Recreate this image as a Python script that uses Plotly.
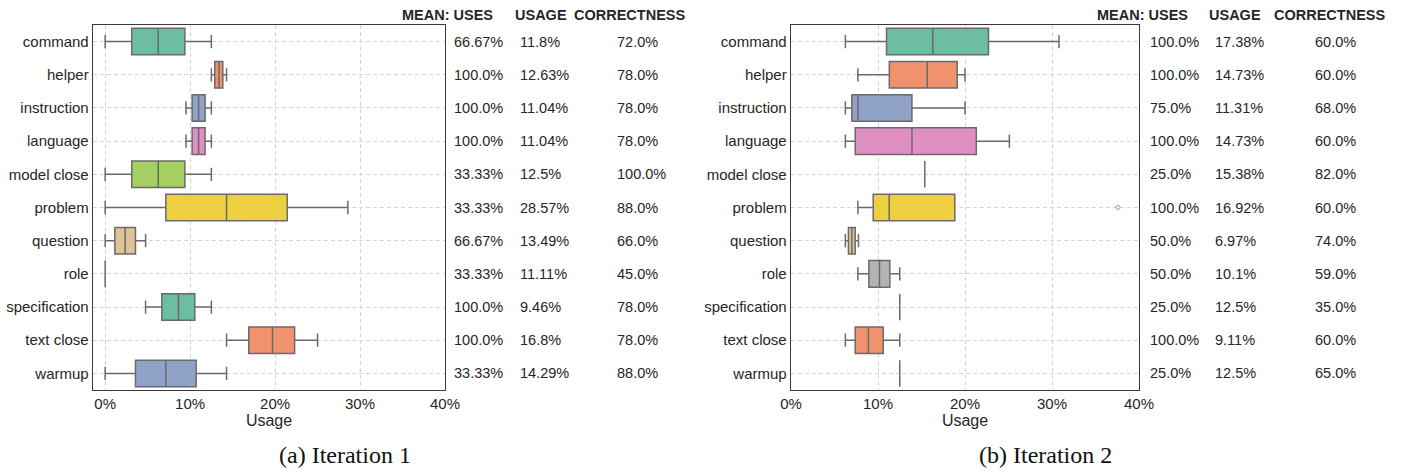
import plotly.graph_objects as go

categories = ["command", "helper", "instruction", "language", "model close", "problem",
              "question", "role", "specification", "text close", "warmup"]
colors = ["#6dbda0", "#f0926d", "#91a2c9", "#df8fc2", "#a6d05f", "#eecf40",
          "#e0c396", "#b3b3b3", "#6dbda0", "#f0926d", "#91a2c9"]

# Iteration 1 box statistics (Usage, %)
it1_low = [0, 12.5, 9.52, 9.52, 0, 0, 0, 0, 4.76, 14.29, 0]
it1_q1 = [3.13, 12.9, 10.24, 10.24, 3.13, 7.14, 1.14, 0, 6.67, 16.9, 3.57]
it1_med = [6.25, 13.4, 11.0, 11.0, 6.25, 14.29, 2.35, 0, 8.63, 19.7, 7.14]
it1_q3 = [9.38, 13.85, 11.76, 11.76, 9.38, 21.43, 3.57, 0, 10.55, 22.3, 10.71]
it1_high = [12.5, 14.29, 12.5, 12.5, 12.5, 28.57, 4.76, 0, 12.5, 25.0, 14.29]

# Iteration 2 box statistics (Usage, %)
it2_low = [6.25, 7.69, 6.25, 6.25, 15.38, 7.69, 6.25, 7.69, 12.5, 6.25, 12.5]
it2_q1 = [10.98, 11.3, 7.0, 7.38, 15.38, 9.45, 6.6, 8.95, 12.5, 7.38, 12.5]
it2_med = [16.3, 15.65, 7.69, 13.9, 15.38, 11.29, 7.0, 10.17, 12.5, 8.9, 12.5]
it2_q3 = [22.7, 19.1, 13.9, 21.3, 15.38, 18.83, 7.38, 11.36, 12.5, 10.6, 12.5]
it2_high = [30.8, 20.0, 20.0, 25.1, 15.38, 18.83, 7.76, 12.5, 12.5, 12.5, 12.5]
it2_outlier_cat = ["problem"]
it2_outlier_val = [37.6]

# Side tables
table_headers = ["MEAN: USES", "USAGE", "CORRECTNESS"]
it1_uses = ["66.67%", "100.0%", "100.0%", "100.0%", "33.33%", "33.33%", "66.67%", "33.33%", "100.0%", "100.0%", "33.33%"]
it1_usage = ["11.8%", "12.63%", "11.04%", "11.04%", "12.5%", "28.57%", "13.49%", "11.11%", "9.46%", "16.8%", "14.29%"]
it1_corr = ["72.0%", "78.0%", "78.0%", "78.0%", "100.0%", "88.0%", "66.0%", "45.0%", "78.0%", "78.0%", "88.0%"]
it2_uses = ["100.0%", "100.0%", "75.0%", "100.0%", "25.0%", "100.0%", "50.0%", "50.0%", "25.0%", "100.0%", "25.0%"]
it2_usage = ["17.38%", "14.73%", "11.31%", "14.73%", "15.38%", "16.92%", "6.97%", "10.1%", "12.5%", "9.11%", "12.5%"]
it2_corr = ["60.0%", "60.0%", "68.0%", "60.0%", "82.0%", "60.0%", "74.0%", "59.0%", "35.0%", "60.0%", "65.0%"]

x_ticks = [0, 10, 20, 30, 40]
x_ticklabels = ["0%", "10%", "20%", "30%", "40%"]
captions = ["(a) Iteration 1", "(b) Iteration 2"]

W, H = 1403, 474
FONT = "Liberation Sans, Arial, sans-serif"
TXT = "#262626"
EDGE = "#6a6a6a"

fig = go.Figure()

def add_boxes(xa, ya, low, q1, med, q3, high):
    for i, c in enumerate(categories):
        fig.add_trace(go.Box(
            y=[c], q1=[q1[i]], median=[med[i]], q3=[q3[i]],
            lowerfence=[low[i]], upperfence=[high[i]],
            orientation="h", xaxis=xa, yaxis=ya,
            fillcolor=colors[i], line=dict(color=EDGE, width=1.5),
            width=0.8, whiskerwidth=0.5, boxpoints=False,
            showlegend=False, hoverinfo="skip",
        ))

add_boxes("x", "y", it1_low, it1_q1, it1_med, it1_q3, it1_high)
add_boxes("x2", "y2", it2_low, it2_q1, it2_med, it2_q3, it2_high)
fig.add_trace(go.Scatter(x=it2_outlier_val, y=it2_outlier_cat, mode="markers", xaxis="x2", yaxis="y2",
                         marker=dict(symbol="circle-open", size=4, color="#9a9a9a", line=dict(width=1)),
                         showlegend=False, hoverinfo="skip"))

def px_x(p):
    return p / W

def px_y(p):
    return 1 - p / H

ydom = [px_y(390), px_y(25)]
axis_common = dict(showline=True, mirror=True, linecolor="#3a3a3a", linewidth=1.3,
                   showgrid=True, gridcolor="#d4d4d4", griddash="4px,3px", gridwidth=1,
                   zeroline=False, ticks="", automargin=False,
                   tickfont=dict(family=FONT, size=15, color=TXT))
xcommon = dict(axis_common, tickvals=x_ticks, ticktext=x_ticklabels,
               title=dict(text="Usage", font=dict(family=FONT, size=16, color=TXT), standoff=0))
ycommon = dict(axis_common, type="category", categoryorder="array", categoryarray=categories,
               range=[10.5, -0.5])

fig.update_layout(
    width=W, height=H, margin=dict(l=0, r=0, t=0, b=0),
    paper_bgcolor="white", plot_bgcolor="white", boxmode="overlay",
    xaxis=dict(xcommon, domain=[px_x(93), px_x(445)], range=[-1.43, 40], anchor="y"),
    yaxis=dict(ycommon, domain=ydom, anchor="x"),
    xaxis2=dict(xcommon, domain=[px_x(791), px_x(1139)], range=[0, 40], anchor="y2"),
    yaxis2=dict(ycommon, domain=ydom, anchor="x2"),
)

annots = []
def add_table(yref, header_xs, cols_x, cols):
    for hx, ht in zip(header_xs, table_headers):
        annots.append(dict(x=px_x(hx), y=px_y(15), xref="paper", yref="paper",
                           text="<b>" + ht + "</b>", showarrow=False,
                           xanchor="left", yanchor="middle",
                           font=dict(family=FONT, size=14.5, color=TXT)))
    for cx, col in zip(cols_x, cols):
        for c, v in zip(categories, col):
            annots.append(dict(x=px_x(cx), y=c, xref="paper", yref=yref, text=v, showarrow=False,
                               xanchor="left", yanchor="middle",
                               font=dict(family=FONT, size=14.5, color=TXT)))

add_table("y", [400, 513, 572], [452, 518, 615], [it1_uses, it1_usage, it1_corr])
add_table("y2", [1095, 1207, 1272], [1148, 1213, 1313], [it2_uses, it2_usage, it2_corr])

for cx, cap in zip([345, 1045], captions):
    annots.append(dict(x=px_x(cx), y=px_y(455), xref="paper", yref="paper", text=cap,
                       showarrow=False, xanchor="center", yanchor="middle",
                       font=dict(family="Liberation Serif, Times New Roman, serif", size=24, color="#111")))
fig.update_layout(annotations=annots)

fig.write_html("out.html", config={"displayModeBar": False, "staticPlot": True},
               post_script="document.body.style.margin='0px';document.body.style.overflow='hidden';")
